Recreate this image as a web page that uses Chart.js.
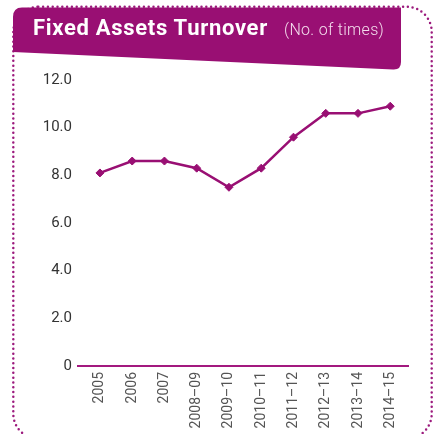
<!DOCTYPE html>
<html>
<head>
<meta charset="utf-8">
<script src="https://cdn.jsdelivr.net/npm/chart.js@4"></script>
<style>
    body { margin: 0; background: #fff; }
    #wrap { position: relative; width: 435px; height: 434px; overflow: hidden; }
    #frame, #banner { position: absolute; left: 0; top: 0; }
    #chart { position: absolute; left: 0; top: 0; }
    #title {
        position: absolute; left: 33px; top: 16px;
        font-family: Roboto, sans-serif; line-height: 24px; color: #fff; white-space: nowrap;
    }
    #title .main { display: inline-block; width: 251px; font-size: 22px; font-weight: 700; letter-spacing: 0.7px; }
    #title .unit { font-size: 16px; font-weight: 300; letter-spacing: 0.3px; color: #f3dcec; }
</style>
</head>
<body>
<div id="wrap">
    <svg id="frame" width="435" height="434">
        <rect x="13.3" y="6.8" width="418.4" height="432" rx="25" ry="25"
              fill="none" stroke="#9c1a7d" stroke-width="2.5"
              stroke-dasharray="0 4.8" stroke-linecap="round"/>
    </svg>
    <canvas id="chart" width="435" height="434"></canvas>
    <svg id="banner" width="435" height="80">
        <path d="M13,17 Q13,7.5 22,7.5 L401,7.5 L401,62 Q401,70 393,69.5 L13,52 Z" fill="#990f73"/>
    </svg>
    <div id="title"><span class="main">Fixed Assets Turnover</span><span class="unit">(No. of times)</span></div>
</div>
<script>
// Дані
const years = ['2005', '2006', '2007', '2008–09', '2009–10', '2010–11', '2011–12', '2012–13', '2013–14', '2014–15'];
const turnover = [8.1, 8.6, 8.6, 8.3, 7.5, 8.3, 9.6, 10.6, 10.6, 10.9];
const yTickLabels = ['0', '2.0', '4.0', '6.0', '8.0', '10.0', '12.0'];

const purple = '#990f73';

const ctx = document.getElementById('chart').getContext('2d');

new Chart(ctx, {
    type: 'line',
    data: {
        datasets: [{
            data: turnover.map((v, i) => ({ x: i, y: v })),
            borderColor: purple,
            borderWidth: 2.5,
            backgroundColor: purple,
            pointStyle: 'rectRot',
            pointRadius: 4,
            pointBorderWidth: 1,
            pointBorderColor: purple,
            pointBackgroundColor: purple,
            tension: 0
        }]
    },
    options: {
        responsive: false,
        animation: false,
        layout: { padding: { left: 0, right: 27, top: 80, bottom: 0 } },
        plugins: {
            legend: { display: false },
            tooltip: { enabled: false }
        },
        scales: {
            x: {
                type: 'linear',
                min: -0.68,
                max: 9.55,
                grid: { display: false, drawTicks: false },
                border: { display: true, color: '#a3197f', width: 2 },
                afterBuildTicks: axis => {
                    axis.ticks = years.map((_, i) => ({ value: i }));
                },
                afterFit: axis => { axis.height = 68; },
                ticks: {
                    autoSkip: false,
                    minRotation: 90,
                    maxRotation: 90,
                    padding: 6,
                    color: '#555',
                    font: { family: 'Roboto', size: 14 },
                    callback: value => years[value]
                }
            },
            y: {
                min: 0,
                max: 12,
                grid: { display: false, drawTicks: false },
                border: { display: false },
                afterFit: axis => { axis.width = 78; },
                ticks: {
                    stepSize: 2,
                    padding: 6,
                    color: '#333',
                    font: { family: 'Roboto', size: 15 },
                    callback: value => yTickLabels[value / 2]
                }
            }
        }
    }
});
</script>
</body>
</html>
